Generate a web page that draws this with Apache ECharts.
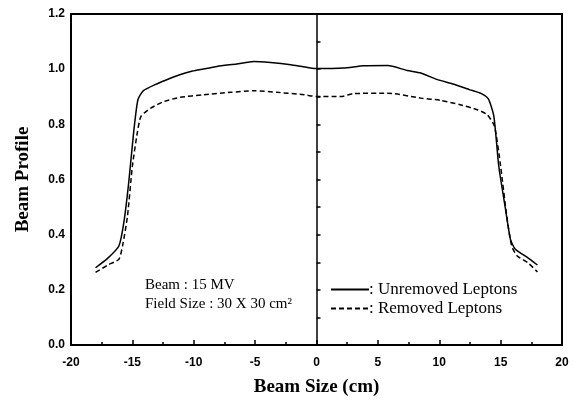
<!DOCTYPE html>
<html>
<head>
<meta charset="utf-8">
<script src="https://cdn.jsdelivr.net/npm/echarts@6/dist/echarts.min.js"></script>
<style>
html,body{margin:0;padding:0;background:#fff;}
#chart{width:573px;height:402px;}
</style>
</head>
<body>
<div id="chart"></div>
<script>
var solidX = [-18, -17, -16.1, -15.7, -15.3, -14.9, -14.55, -14.1, -13.1, -12.3, -11.2, -10.1, -9.3, -8.1, -6.5, -5.1, -3.75, -2.1, 0, 2.2, 3.85, 5.8, 7.4, 8.5, 9.8, 11.2, 12.5, 13.4, 14.0, 14.45, 14.85, 15.4, 15.8, 16.2, 17.2, 18];
var solidY = [0.28, 0.315, 0.359, 0.443, 0.588, 0.769, 0.889, 0.922, 0.945, 0.96, 0.979, 0.993, 1.0, 1.01, 1.019, 1.028, 1.024, 1.016, 1.002, 1.004, 1.012, 1.013, 0.995, 0.986, 0.963, 0.945, 0.925, 0.912, 0.892, 0.829, 0.648, 0.492, 0.383, 0.347, 0.317, 0.29];
var dashX = [-18, -17, -16.1, -15.8, -15.4, -15.0, -14.6, -14.3, -13.5, -12.4, -11.1, -9.2, -7.0, -5.1, -3.2, -1.0, 0, 2.0, 3.0, 5.8, 8.5, 10.1, 11.7, 13.1, 13.9, 14.5, 15.0, 15.5, 15.9, 16.35, 17.2, 18];
var dashY = [0.263, 0.29, 0.311, 0.359, 0.467, 0.648, 0.769, 0.829, 0.859, 0.883, 0.898, 0.907, 0.916, 0.922, 0.916, 0.907, 0.901, 0.901, 0.911, 0.913, 0.895, 0.887, 0.871, 0.853, 0.835, 0.793, 0.648, 0.467, 0.359, 0.323, 0.299, 0.265];
var seriesNames = [': Unremoved Leptons', ': Removed Leptons'];
var annotations = ['Beam : 15 MV', 'Field Size : 30 X 30 cm²'];
var xTitle = 'Beam Size (cm)';
var yTitle = 'Beam Profile';

function pairs(xs, ys){ return xs.map(function(x,i){ return [x, ys[i]]; }); }

var chart = echarts.init(document.getElementById('chart'));
var serif = 'Liberation Serif, Times New Roman, serif';
var sans = 'Liberation Sans, Arial, sans-serif';
chart.setOption({
  animation: false,
  backgroundColor: '#fff',
  grid: {left: 71, right: 11, top: 14, bottom: 56, show: true, borderColor: '#000', borderWidth: 2},
  xAxis: {
    type: 'value', min: -20, max: 20, interval: 5,
    name: xTitle, nameLocation: 'middle', nameGap: 33,
    nameTextStyle: {fontFamily: serif, fontWeight: 'bold', fontSize: 19, color: '#000'},
    axisLine: {onZero: false, lineStyle: {color: '#000', width: 2}},
    axisTick: {show: true, inside: true, length: 5, lineStyle: {color: '#000', width: 1.5}},
    minorTick: {show: true, splitNumber: 2, length: 3, lineStyle: {color: '#000', width: 1.5}},
    axisLabel: {fontFamily: sans, fontWeight: 'bold', fontSize: 12, color: '#000', margin: 12},
    splitLine: {show: false}
  },
  yAxis: [{
    type: 'value', min: 0, max: 1.2, interval: 0.2,
    name: yTitle, nameLocation: 'middle', nameGap: 38, nameRotate: 90,
    nameTextStyle: {fontFamily: serif, fontWeight: 'bold', fontSize: 19, color: '#000'},
    axisLine: {show: true, onZero: false, lineStyle: {color: '#000', width: 2}},
    axisTick: {show: false},
    axisLabel: {fontFamily: sans, fontWeight: 'bold', fontSize: 12, color: '#000', margin: 6,
      formatter: function(v){ return v.toFixed(1); }},
    splitLine: {show: false}
  }, {
    type: 'value', min: 0, max: 1.2, interval: 0.1, position: 'right',
    axisLine: {show: true, onZero: true, lineStyle: {color: '#000', width: 1.5}},
    axisTick: {show: true, length: 4, lineStyle: {color: '#000', width: 1.5}},
    axisLabel: {show: false},
    splitLine: {show: false}
  }],
  legend: {
    orient: 'vertical', left: 325, top: 276, itemWidth: 38, itemHeight: 10, itemGap: 2,
    itemStyle: {opacity: 0},
    textStyle: {fontFamily: serif, fontSize: 17, color: '#000', padding: [0,0,0,-5]},
    data: seriesNames
  },
  graphic: [
    {type: 'text', left: 145, top: 278, style: {text: annotations[0], font: '15px ' + serif, fill: '#000'}},
    {type: 'text', left: 145, top: 297, style: {text: annotations[1], font: '15px ' + serif, fill: '#000'}}
  ],
  series: [{
    name: seriesNames[0], type: 'line', symbol: 'none', smooth: 0.2,
    lineStyle: {color: '#000', width: 1.5, type: 'solid'},
    itemStyle: {color: '#000'},
    data: pairs(solidX, solidY)
  }, {
    name: seriesNames[1], type: 'line', symbol: 'none', smooth: 0.2,
    lineStyle: {color: '#000', width: 1.5, type: [5, 3]},
    itemStyle: {color: '#000'},
    data: pairs(dashX, dashY)
  }]
});
</script>
</body>
</html>
